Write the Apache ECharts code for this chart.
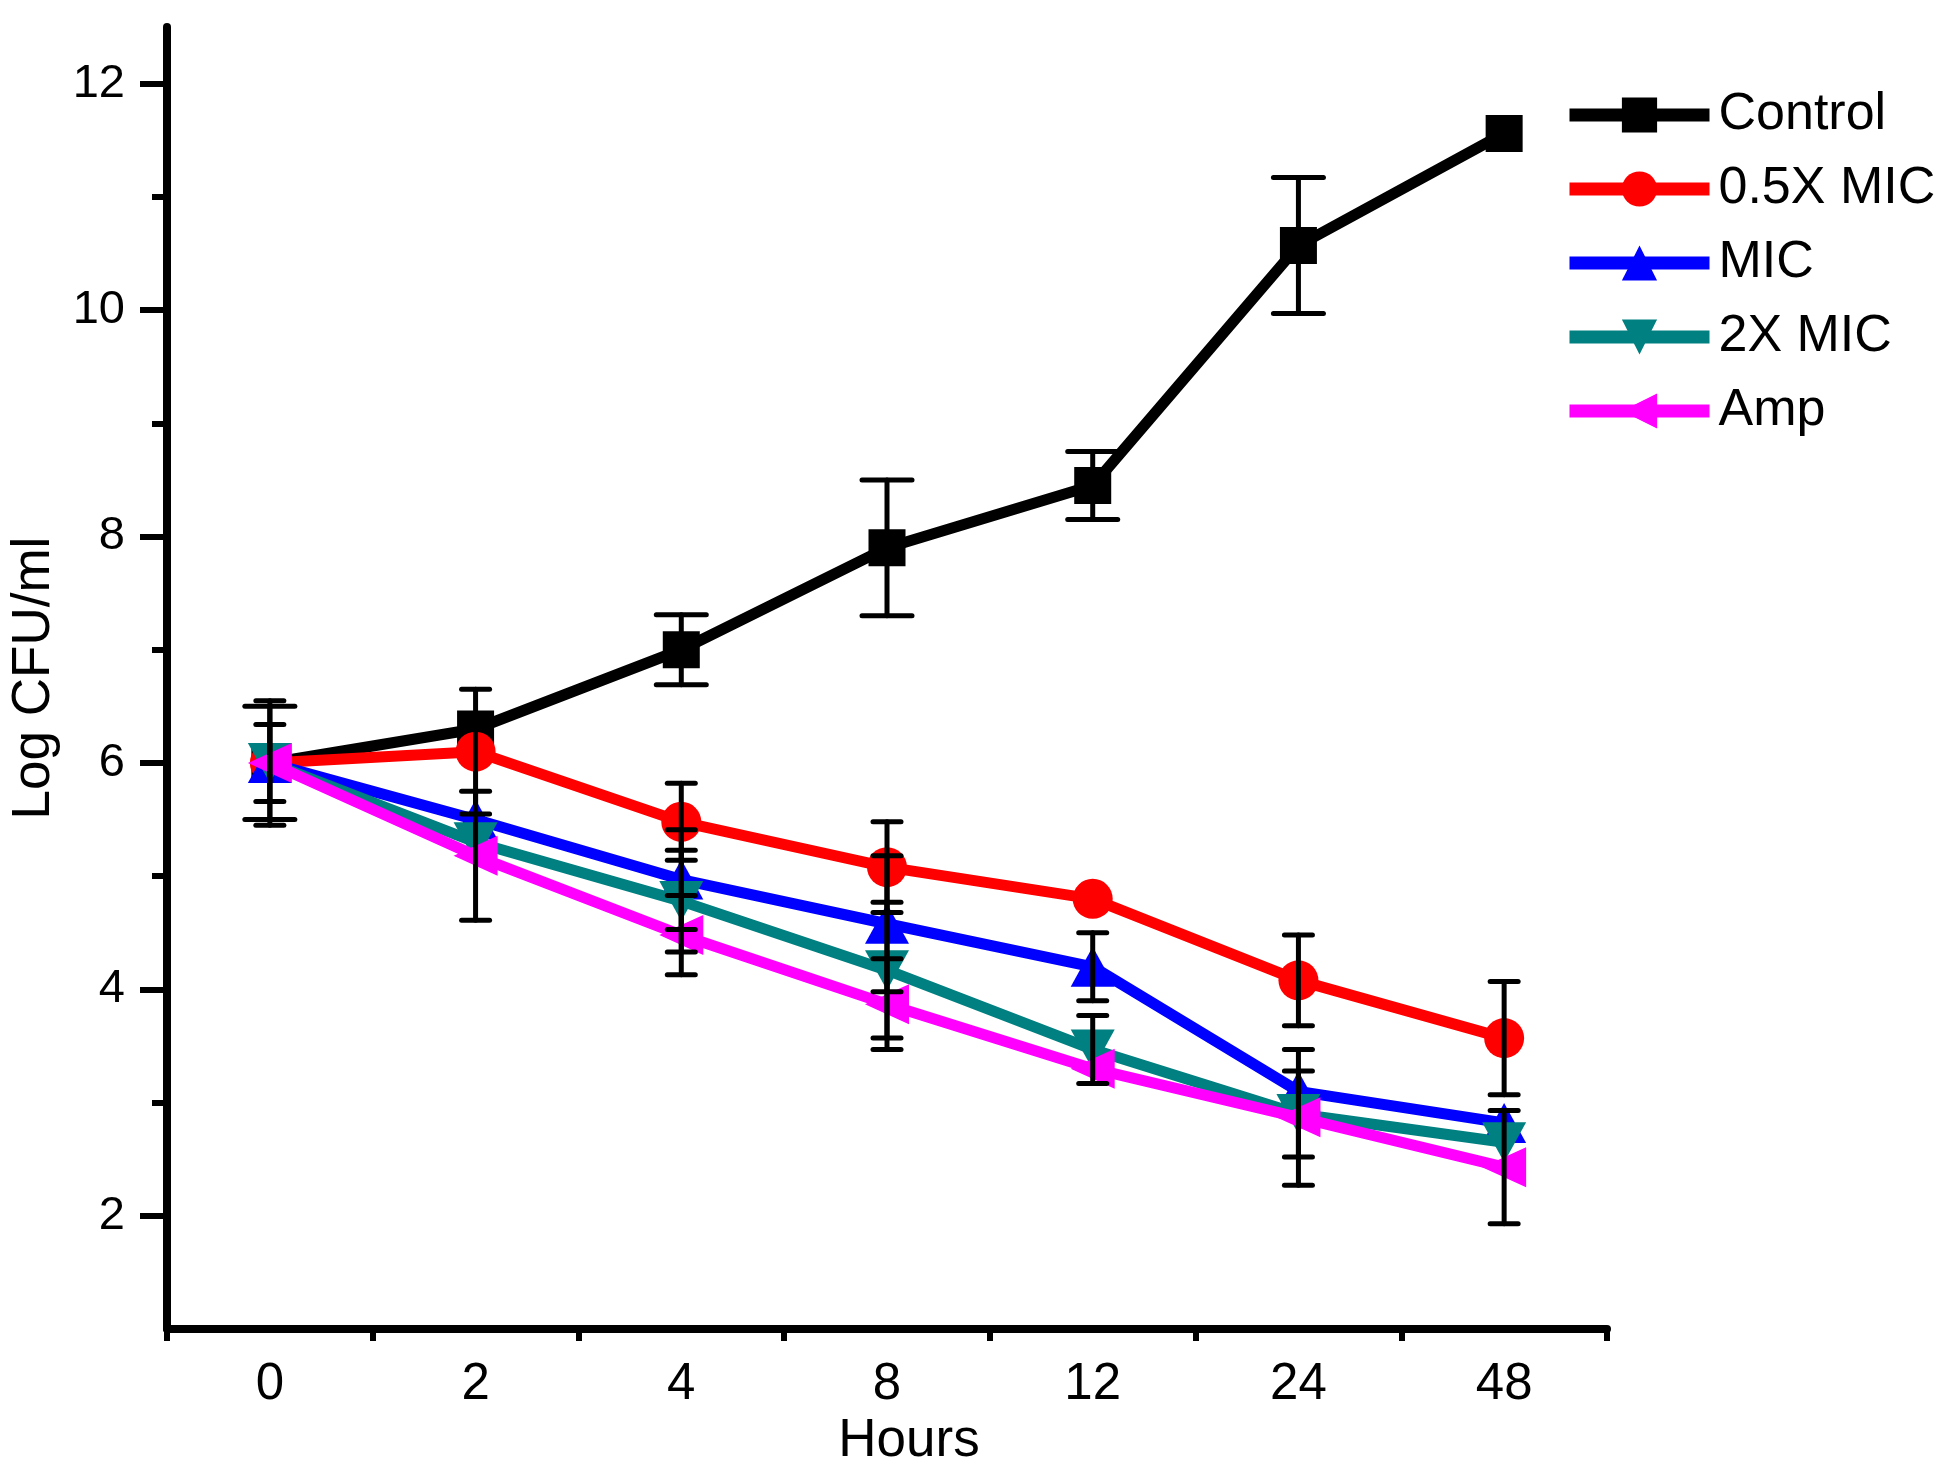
<!DOCTYPE html>
<html>
<head>
<meta charset="utf-8">
<title>Log CFU/ml vs Hours</title>
<script src="https://cdn.jsdelivr.net/npm/echarts@6/dist/echarts.min.js"></script>
<style>
html,body{margin:0;padding:0;background:#fff;}
#chart{width:1939px;height:1473px;}
</style>
</head>
<body>
<div id="chart"></div>
<script>
// categories (hours)
var hours = ['0', '2', '4', '8', '12', '24', '48'];
var seriesNames = ['Control', '0.5X MIC', 'MIC', '2X MIC', 'Amp'];

// mean Log CFU/ml
var control = [6.0, 6.3, 7.0, 7.9, 8.45, 10.57, 11.56];
var halfMic = [6.0, 6.1, 5.48, 5.08, 4.8, 4.08, 3.57];
var mic     = [6.0, 5.5, 4.97, 4.58, 4.2, 3.1, 2.82];
var twoMic  = [6.0, 5.3, 4.78, 4.17, 3.47, 2.9, 2.65];
var amp     = [6.0, 5.18, 4.48, 3.87, 3.3, 2.87, 2.43];

// error (+/-), 0 = no bar drawn
var controlErr = [0.5, 0, 0.31, 0.6, 0.3, 0.6, 0];
var halfMicErr = [0.55, 0.55, 0.34, 0.4, 0, 0.4, 0.5];
var micErr     = [0.34, 0, 0.44, 0.6, 0.3, 0, 0];
var twoMicErr  = [0, 0, 0.45, 0.6, 0.3, 0.38, 0];
var ampErr     = [0, 0.57, 0.35, 0.4, 0, 0.6, 0.5];

// y axis ticks
var yTicks = [2, 4, 6, 8, 10, 12];
var yMinorTicks = [3, 5, 7, 9, 11];

var FONT = 'Liberation Sans, Arial, sans-serif';
var colors = ['#000000', '#ff0000', '#0000ff', '#008080', '#ff00ff'];
var symbols = ['rect', 'circle', 'triangle', 'triangle', 'triangle'];
var symbolSizes = [37, 40, [44, 40], [44, 40], [40, 44]];
var symbolRotates = [0, 0, 0, 180, 90];

var means = [control, halfMic, mic, twoMic, amp];
var errs = [controlErr, halfMicErr, micErr, twoMicErr, ampErr];

// rows for the error bar series: [category index, mean, err, series index]
var errRows = [];
for (var s = 0; s < means.length; s++) {
	for (var i = 0; i < hours.length; i++) {
		if (errs[s][i] > 0) {
			errRows.push([i, means[s][i], errs[s][i], s]);
		}
	}
}

//误差线: 竖线加上下两个横帽
function renderErrorBar(params, api) {
	var x = api.value(0), mid = api.value(1), err = api.value(2), s = api.value(3);
	var top = api.coord([x, mid + err]);
	var bot = api.coord([x, mid - err]);
	var half = s === 0 ? 25 : 14;
	var st = {stroke: '#000', lineWidth: 5, lineCap: 'round'};
	return {
		type: 'group',
		children: [
			{type: 'line', shape: {x1: top[0], y1: top[1], x2: bot[0], y2: bot[1]}, style: st},
			{type: 'line', shape: {x1: top[0] - half, y1: top[1], x2: top[0] + half, y2: top[1]}, style: st},
			{type: 'line', shape: {x1: bot[0] - half, y1: bot[1], x2: bot[0] + half, y2: bot[1]}, style: st}
		]
	};
}

var lineSeries = [];
for (var k = 0; k < means.length; k++) {
	lineSeries.push({
		name: seriesNames[k],
		type: 'line',
		data: means[k],
		symbol: symbols[k],
		symbolSize: symbolSizes[k],
		symbolRotate: symbolRotates[k],
		showAllSymbol: true,
		lineStyle: {color: colors[k], width: 11},
		itemStyle: {color: colors[k]},
		z: 2 + k
	});
}
lineSeries.push({
	type: 'custom',
	renderItem: renderErrorBar,
	data: errRows,
	encode: {x: 0, y: 1},
	z: 20,
	silent: true
});

var myChart = echarts.init(document.getElementById('chart'));
var option = {
	animation: false,
	backgroundColor: '#ffffff',
	textStyle: {fontFamily: FONT},
	grid: {left: 155, right: 332, top: 27, bottom: 129, containLabel: false},
	legend: {
		data: seriesNames,
		orient: 'vertical',
		left: 1558,
		top: 84,
		itemWidth: 140,
		itemHeight: 44,
		itemGap: 22,
		lineStyle: {width: 13},
		textStyle: {fontFamily: FONT, fontSize: 52, color: '#000', lineHeight: 44, padding: [0, 0, 0, 4]}
	},
	xAxis: [
		{
			type: 'category',
			data: hours,
			boundaryGap: true,
			name: 'Hours',
			nameLocation: 'middle',
			nameGap: 80,
			nameTextStyle: {fontFamily: FONT, fontSize: 53, color: '#000', padding: [0, 0, 0, 44]},
			axisLine: {lineStyle: {color: '#000', width: 8}},
			axisTick: {alignWithLabel: true, inside: false, length: 22, lineStyle: {color: '#000', width: 6}},
			axisLabel: {fontFamily: FONT, fontSize: 51, color: '#000', margin: 30},
			splitLine: {show: false}
		},
		{
			type: 'category',
			data: hours,
			boundaryGap: true,
			position: 'bottom',
			axisLine: {show: false},
			axisTick: {show: true, length: 12, lineStyle: {color: '#000', width: 6}},
			axisLabel: {show: false},
			splitLine: {show: false}
		}
	],
	yAxis: [
		{
			type: 'value',
			min: 1,
			max: 12.5,
			name: 'Log CFU/ml',
			nameLocation: 'middle',
			nameGap: 106,
			nameTextStyle: {fontFamily: FONT, fontSize: 53, color: '#000'},
			axisLine: {show: true, lineStyle: {color: '#000', width: 8}},
			axisTick: {show: true, customValues: yTicks, length: 27, lineStyle: {color: '#000', width: 6}},
			axisLabel: {customValues: yTicks, fontFamily: FONT, fontSize: 47, color: '#000', margin: 42},
			splitLine: {show: false}
		},
		{
			type: 'value',
			min: 1,
			max: 12.5,
			position: 'left',
			axisLine: {show: false},
			axisTick: {show: true, customValues: yMinorTicks, length: 15, lineStyle: {color: '#000', width: 6}},
			axisLabel: {show: false},
			splitLine: {show: false}
		}
	],
	series: lineSeries
};
myChart.setOption(option);
</script>
</body>
</html>
